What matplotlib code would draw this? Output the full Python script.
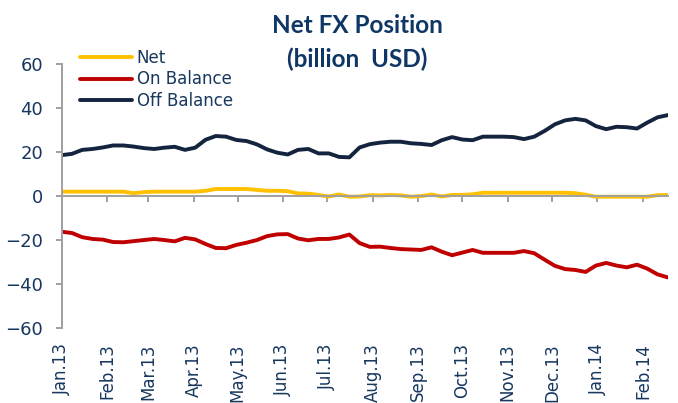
import matplotlib
matplotlib.use("Agg")
import matplotlib.pyplot as plt
import matplotlib.dates as mdates
import pandas as pd

# Weekly observations, Jan 2013 - Feb 2014 (billion USD)
start_date = "2013-01-04"
n_weeks = 60

net = [2.0, 2.0, 2.0, 2.0, 2.0, 2.0, 2.0, 1.3, 1.8, 2.0,
       2.0, 2.0, 2.0, 2.0, 2.4, 3.2, 3.2, 3.2, 3.2, 2.8,
       2.4, 2.4, 2.2, 1.2, 1.1, 0.5, -0.2, 0.7, -0.3, -0.2,
       0.4, 0.3, 0.5, 0.3, -0.3, 0.0, 0.7, -0.2, 0.5, 0.5,
       0.8, 1.5, 1.5, 1.5, 1.5, 1.5, 1.5, 1.5, 1.5, 1.5,
       1.3, 0.6, -0.3, -0.3, -0.3, -0.3, -0.3, -0.3, 0.4, 0.5]

on_balance = [-16.2, -16.8, -18.7, -19.5, -19.8, -20.9, -21.0, -20.5, -20.0, -19.5,
              -20.0, -20.6, -19.0, -19.7, -21.8, -23.6, -23.7, -22.2, -21.2, -20.0,
              -18.2, -17.4, -17.3, -19.3, -20.1, -19.5, -19.5, -18.8, -17.5, -21.4,
              -23.1, -23.0, -23.6, -24.1, -24.3, -24.5, -23.3, -25.3, -26.9, -25.7,
              -24.5, -25.8, -25.8, -25.8, -25.8, -25.0, -26.0, -28.9, -31.7, -33.2,
              -33.6, -34.5, -31.6, -30.4, -31.6, -32.4, -31.2, -33.0, -35.6, -37.0]

off_balance = [18.6, 19.2, 21.0, 21.4, 22.1, 23.0, 23.0, 22.5, 21.8, 21.4,
               22.0, 22.4, 21.0, 22.0, 25.6, 27.3, 27.0, 25.5, 25.0, 23.5,
               21.2, 19.7, 18.9, 21.0, 21.4, 19.4, 19.4, 17.8, 17.6, 22.1,
               23.6, 24.3, 24.7, 24.7, 24.0, 23.7, 23.2, 25.4, 26.8, 25.7,
               25.4, 27.0, 27.0, 27.0, 26.8, 25.9, 27.0, 29.6, 32.6, 34.4,
               35.1, 34.4, 31.8, 30.4, 31.5, 31.3, 30.7, 33.4, 35.8, 36.8]

dates = pd.date_range(start_date, periods=n_weeks, freq="7D")

text_col = "#17375E"
axis_col = "#A0A0A0"

plt.rcParams["font.family"] = ["DejaVu Sans"]

fig = plt.figure(figsize=(6.78, 4.03), dpi=100)
ax = fig.add_axes([0.091, 0.186, 0.894, 0.655])

ax.plot(dates, net, color="#FFC000", lw=2.8, label="Net", solid_capstyle="round")
ax.plot(dates, on_balance, color="#C00000", lw=2.8, label="On Balance", solid_capstyle="round")
ax.plot(dates, off_balance, color="#14243F", lw=2.8, label="Off Balance", solid_capstyle="round")

ax.set_xlim(dates[0], dates[-1])
ax.set_ylim(-60, 60)
ax.set_yticks(range(-60, 61, 20))

# x axis line sits on zero, labels pushed down to the bottom
for s in ["top", "right"]:
    ax.spines[s].set_visible(False)
ax.spines["bottom"].set_position(("data", 0))
ax.spines["bottom"].set_color(axis_col)
ax.spines["left"].set_color(axis_col)
ax.spines["bottom"].set_linewidth(1.4)
ax.spines["left"].set_linewidth(1.4)

ax.xaxis.set_major_locator(mdates.MonthLocator(bymonthday=4))
ax.xaxis.set_major_formatter(mdates.DateFormatter("%b.%y"))
ax.tick_params(axis="x", direction="out", length=4.5, width=1.4, color=axis_col,
               labelcolor=text_col, labelsize=12, labelrotation=90, pad=101.5)
ax.tick_params(axis="y", direction="out", length=4.5, width=1.4, color=axis_col,
               labelcolor=text_col, labelsize=13, pad=9)

leg = ax.legend(loc="upper left", bbox_to_anchor=(0.03, 1.057), frameon=False,
                borderpad=0, borderaxespad=0, handlelength=3.1, handletextpad=0.3,
                labelspacing=0.2, fontsize=12)
for t in leg.get_texts():
    t.set_color(text_col)

fig.text(0.527, 0.937, "Net FX Position", ha="center", va="center", fontsize=17.5,
         fontweight="bold", color="#0F3766", family="Lato")
fig.text(0.527, 0.853, "(billion  USD)", ha="center", va="center", fontsize=17.5,
         fontweight="bold", color="#0F3766", family="Lato")

fig.savefig("out.png", dpi=100)
